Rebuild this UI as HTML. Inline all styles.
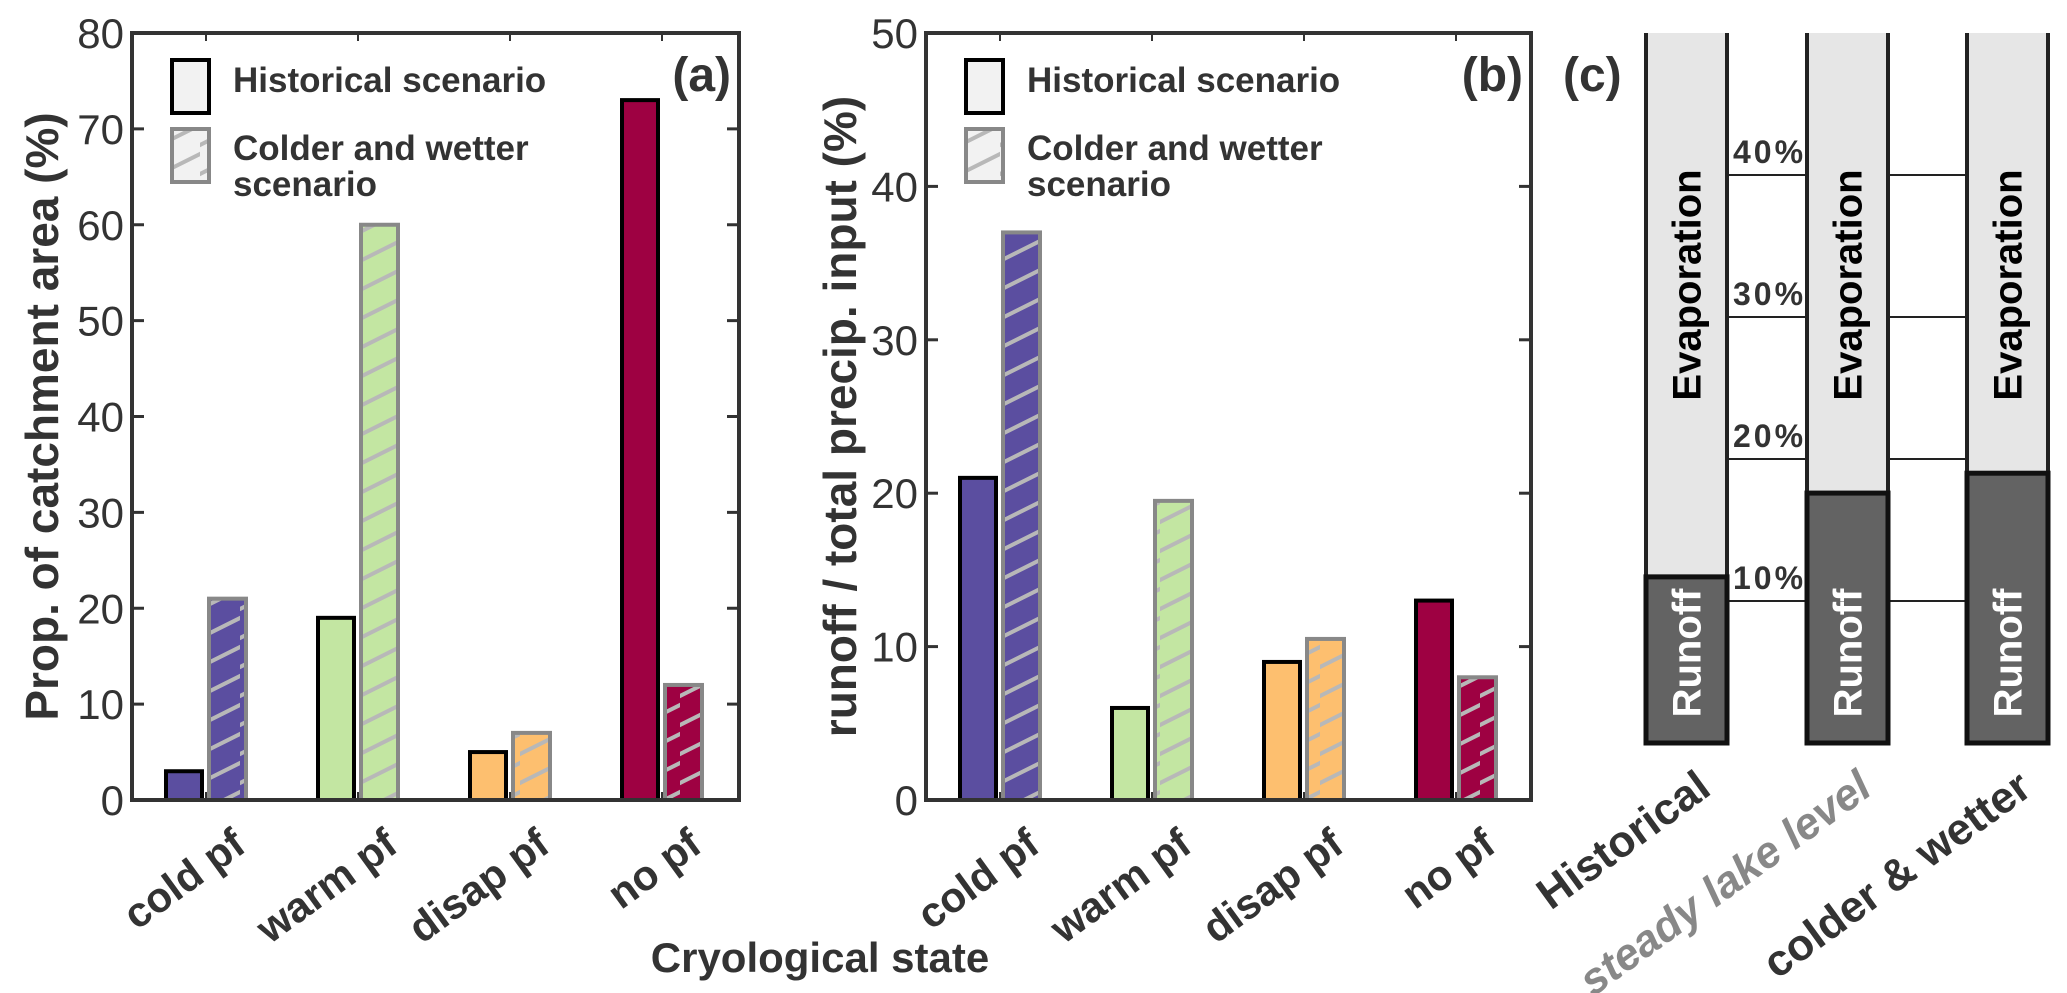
<!DOCTYPE html>
<html><head><meta charset="utf-8">
<style>
html,body{margin:0;padding:0;background:#fff;}
svg{display:block;font-family:"Liberation Sans",Arial,sans-serif;}
</style></head>
<body>
<svg id="fig" width="2067" height="993" viewBox="0 0 2067 993">
<defs>
<pattern id="hatch" patternUnits="userSpaceOnUse" width="40" height="29">
<line x1="-2" y1="30" x2="42" y2="8" stroke="#b8b8b8" stroke-width="4"/>
<line x1="-2" y1="1" x2="42" y2="-21" stroke="#b8b8b8" stroke-width="4"/>
</pattern>
</defs>
</svg>
<script>
const categories = ["cold pf","warm pf","disap pf","no pf"];
const colors = ["#5b4ea0","#c3e6a2","#fdbf6f","#9e0142"];
const areaHist = [3,19,5,73];
const areaCold = [21,60,7,12];
const runoffHist = [21,6,9,13];
const runoffCold = [37,19.5,10.5,8];
const ticksA = [0,10,20,30,40,50,60,70,80];
const ticksB = [0,10,20,30,40,50];
const scenarios = ["Historical","steady lake level","colder & wetter"];
const runoffShare = [11.7,17.6,19.0];
const gridPct = [10,20,30,40];

const NS="http://www.w3.org/2000/svg";
const svg=document.getElementById('fig');
function mk(tag,attrs,parent,text){const e=document.createElementNS(NS,tag);for(const k in attrs)e.setAttribute(k,attrs[k]);if(text!==undefined)e.textContent=text;(parent||svg).appendChild(e);return e;}

function panel(o){
  const g=mk('g',{});
  
  
  const y=v=>o.bottom-(v/o.max)*(o.bottom-o.top);
  const cx=i=>o.c0+152*i;
  for(let i=0;i<categories.length;i++){
    const c=cx(i);
    let b=mk('rect',{x:c-40,y:y(o.hist[i]),width:36,height:o.bottom-y(o.hist[i]),fill:colors[i],stroke:'#000','stroke-width':4},g);
    
    
    let b2=mk('rect',{x:c+3,y:y(o.cold[i]),width:37,height:o.bottom-y(o.cold[i]),fill:colors[i],stroke:'none'},g);
    
    
    let h=mk('rect',{x:c+3,y:y(o.cold[i]),width:37,height:o.bottom-y(o.cold[i]),fill:'url(#hatch)',stroke:'#888','stroke-width':4},g);
    
    
    mk('line',{x1:c,x2:c,y1:o.bottom,y2:o.bottom-8,stroke:'#333','stroke-width':2},g);
    mk('line',{x1:c,x2:c,y1:o.top,y2:o.top+8,stroke:'#333','stroke-width':2},g);
    const lx=c+42, ly=o.bottom+50;
    let t=mk('text',{x:lx,y:ly,'text-anchor':'end','font-size':42,'font-weight':'bold',fill:'#333',transform:`rotate(-36 ${lx} ${ly})`},g,categories[i]);
    
    
  }
  let ax=mk('rect',{x:o.left,y:o.top,width:o.right-o.left,height:o.bottom-o.top,fill:'none',stroke:'#333','stroke-width':4},g);
  
  
  for(const v of o.ticks){
    const yy=y(v);
    mk('line',{x1:o.left,x2:o.left+12,y1:yy,y2:yy,stroke:'#333','stroke-width':3},g);
    mk('line',{x1:o.right,x2:o.right-12,y1:yy,y2:yy,stroke:'#333','stroke-width':3},g);
    let t=mk('text',{x:o.left-8,y:yy+15,'text-anchor':'end','font-size':42,fill:'#333'},g,String(v));
    
    
  }
  const my=(o.top+o.bottom)/2;
  let yt=mk('text',{x:o.ytx,y:my,'text-anchor':'middle','font-size':o.ytfs,'font-weight':'bold',fill:'#333',transform:`rotate(-90 ${o.ytx} ${my})`},g,o.ytitle);
  
  
  let pl=mk('text',{x:o.right-8,y:o.top+58,'text-anchor':'end','font-size':48,'font-weight':'bold',fill:'#333'},g,o.label);
  
  
  const lx=o.left+40;
  let l1=mk('rect',{x:lx,y:o.top+27,width:37,height:53,fill:'#f2f2f2',stroke:'#000','stroke-width':4},g);
  
  
  let lt1=mk('text',{x:lx+61,y:o.top+59,'font-size':35,'font-weight':'bold',fill:'#333'},g,'Historical scenario');
  
  
  let l2=mk('rect',{x:lx,y:o.top+96,width:37,height:53,fill:'#f2f2f2',stroke:'none'},g);
  
  
  mk('rect',{x:lx,y:o.top+96,width:37,height:53,fill:'url(#hatch)',stroke:'#888','stroke-width':4},g);
  let lt2=mk('text',{x:lx+61,y:o.top+127,'font-size':35,'font-weight':'bold',fill:'#333'},g,'Colder and wetter');
  
  
  mk('text',{x:lx+61,y:o.top+163,'font-size':35,'font-weight':'bold',fill:'#333'},g,'scenario');
}
panel({name:'panel-a',left:132,right:739,top:33,bottom:800,max:80,c0:206,hist:areaHist,cold:areaCold,ticks:ticksA,ytitle:'Prop. of catchment area (%)',ytx:58,ytfs:46,label:'(a)'});
panel({name:'panel-b',left:926,right:1531,top:33,bottom:800,max:50,c0:1000,hist:runoffHist,cold:runoffCold,ticks:ticksB,ytitle:'runoff / total precip. input (%)',ytx:856,ytfs:46,label:'(b)'});

let xt=mk('text',{x:820,y:972,'text-anchor':'middle','font-size':42,'font-weight':'bold',fill:'#333'},svg,'Cryological state');



const gc=mk('g',{});


const cTop=33,cBot=743,pxPer=14.2;
const cy=p=>cBot-p*pxPer;
const colX=[1646,1807,1967],colW=81;
for(let i=0;i<gridPct.length;i++){
  const yy=cy(gridPct[i]);
  for(let k=0;k<2;k++){
    let ln=mk('line',{x1:colX[k]+colW,x2:colX[k+1],y1:yy,y2:yy,stroke:'#222','stroke-width':2},gc);
    
    
  }
  let t=mk('text',{x:colX[0]+colW+6,y:yy-12,'font-size':32,'font-weight':'bold',fill:'#333','letter-spacing':'3'},gc,gridPct[i]+'%');
  
  
}
for(let i=0;i<scenarios.length;i++){
  const x=colX[i];
  let ev=mk('rect',{x:x,y:cTop,width:colW,height:cy(runoffShare[i])-cTop,fill:'#e6e6e6'},gc);
  
  
  mk('line',{x1:x,x2:x,y1:cTop,y2:cBot,stroke:'#222','stroke-width':4},gc);
  mk('line',{x1:x+colW,x2:x+colW,y1:cTop,y2:cBot,stroke:'#222','stroke-width':4},gc);
  let ro=mk('rect',{x:x,y:cy(runoffShare[i]),width:colW,height:cBot-cy(runoffShare[i]),fill:'#636363',stroke:'#111','stroke-width':5},gc);
  
  
  const mx=x+colW/2+14;
  let et=mk('text',{x:mx,y:285,'text-anchor':'middle','font-size':40,'font-weight':'bold',fill:'#000',transform:`rotate(-90 ${mx} 285)`},gc,'Evaporation');
  
  
  let rt=mk('text',{x:mx,y:653,'text-anchor':'middle','font-size':40,'font-weight':'bold',fill:'#fff',transform:`rotate(-90 ${mx} 653)`},gc,'Runoff');
  
  
  const ex=x+colW-14, ey=cBot+50;
  let st=mk('text',{x:ex,y:ey,'text-anchor':'end','font-size':44,'font-weight':'bold','font-style':i===1?'italic':'normal',fill:i===1?'#888':'#333',transform:`rotate(-36 ${ex} ${ey})`},gc,scenarios[i]);
  
  
}
let cl=mk('text',{x:1563,y:91,'font-size':48,'font-weight':'bold',fill:'#333'},gc,'(c)');


</script>
</body></html>
